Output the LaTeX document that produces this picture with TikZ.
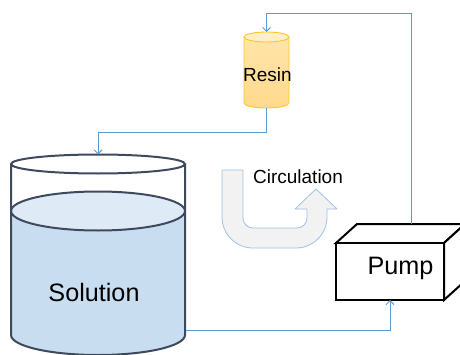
\documentclass[tikz,border=0pt]{standalone}
\usepackage{fontspec}
\setmainfont{Liberation Sans}
\usetikzlibrary{arrows.meta,calc}
\definecolor{flow}{HTML}{5B9BD5}
\definecolor{ushape}{HTML}{9DC3E6}
\definecolor{ufill}{HTML}{F2F2F2}
\definecolor{tank}{HTML}{3E4A5C}
\definecolor{liquid}{HTML}{C8DDF0}
\definecolor{surface}{HTML}{DEEBF7}
\definecolor{resinedge}{HTML}{FFC524}
\definecolor{resintop}{HTML}{FFEFC8}
\definecolor{resinhi}{HTML}{FFE6AE}
\definecolor{resinlo}{HTML}{FFD98C}
\tikzset{
  conn/.style={draw=flow, line width=0.9pt, -{Straight Barb[length=4pt,width=8pt]}},
  area/.style={inner sep=0pt, outer sep=0pt},
  lbl/.style={inner sep=0pt, text=black},
  bigtext/.style={font=\fontsize{25.2}{27}\selectfont},
  midtext/.style={font=\fontsize{19}{21}\selectfont},
  tankline/.style={draw=tank, line width=2pt},
  pumpline/.style={draw=black, line width=2pt, line join=miter},
}
\begin{document}
\begin{tikzpicture}[x=1pt,y=1pt]
\useasboundingbox (0,0) rectangle (460,354);

% ---- resin column ----
\node[area, minimum width=45pt, minimum height=76pt] (resin) at (266.5,284) {};
\shade[top color=resinhi, bottom color=resinlo]
  (244,317) -- (244,251) arc[start angle=180,end angle=360,x radius=22.5,y radius=5]
  -- (289,317) arc[start angle=0,end angle=180,x radius=22.5,y radius=5] -- cycle;
\draw[resinedge, line width=0.9pt]
  (244,317) -- (244,251) arc[start angle=180,end angle=360,x radius=22.5,y radius=5]
  -- (289,317);
\filldraw[fill=resintop, draw=resinedge, line width=0.9pt]
  (266.5,317) ellipse [x radius=22.5, y radius=5];
\node[lbl, midtext] (resinlbl) at (267.5,279) {Resin};

% ---- solution tank ----
\node[area, minimum width=174pt, minimum height=200.5pt] (solution) at (98,99.25) {};
\fill[liquid] (11,143) -- (11,19) arc[start angle=180,end angle=360,x radius=87,y radius=20]
  -- (185,143) -- cycle;
\filldraw[fill=surface, tankline] (98,143) ellipse [x radius=87, y radius=19.5];
\filldraw[fill=white, tankline] (98,190) ellipse [x radius=87, y radius=9.5];
\draw[tankline, line join=round]
  (11,190) -- (11,19) arc[start angle=180,end angle=360,x radius=87,y radius=20] -- (185,190);
\node[lbl, bigtext] (solutionlbl) at (94,62) {Solution};

% ---- pump ----
\filldraw[fill=white, pumpline] (336,111) -- (357,130) -- (465,130) -- (444,111) -- cycle;
\filldraw[fill=white, pumpline] (444,111) -- (465,130) -- (465,73) -- (444,54) -- cycle;
\node[area, draw=black, line width=2pt, fill=white, minimum width=108pt, minimum height=57pt] (pump) at (390,82.5) {};
\node[lbl, bigtext] (pumplbl) at (400.5,86) {Pump};
\coordinate (pumpout) at (411,130);
\coordinate (tankout) at (186,24);

% ---- circulation arrow ----
\filldraw[fill=ufill, draw=ushape, line width=0.8pt, line join=round]
  (222,184) -- (222,137) arc[start angle=180,end angle=270,radius=31]
  -- (296,106) arc[start angle=270,end angle=360,radius=31]
  -- (327,145) -- (337,145) -- (316,165) -- (295,145) -- (307,145)
  -- (307,136) arc[start angle=0,end angle=-90,radius=10]
  -- (253,126) arc[start angle=270,end angle=180,radius=10]
  -- (243,184) -- cycle;
\node[lbl, midtext] (circlbl) at (298,177) {Circulation};

% ---- flow lines ----
\draw[conn] (pumpout) -- ++(0,211) -| (resin.north);
\draw[conn] (resin.south) -- ++(0,-24) -| (solution.north);
\draw[conn] (tankout) -| (pump.south);
\end{tikzpicture}
\end{document}
